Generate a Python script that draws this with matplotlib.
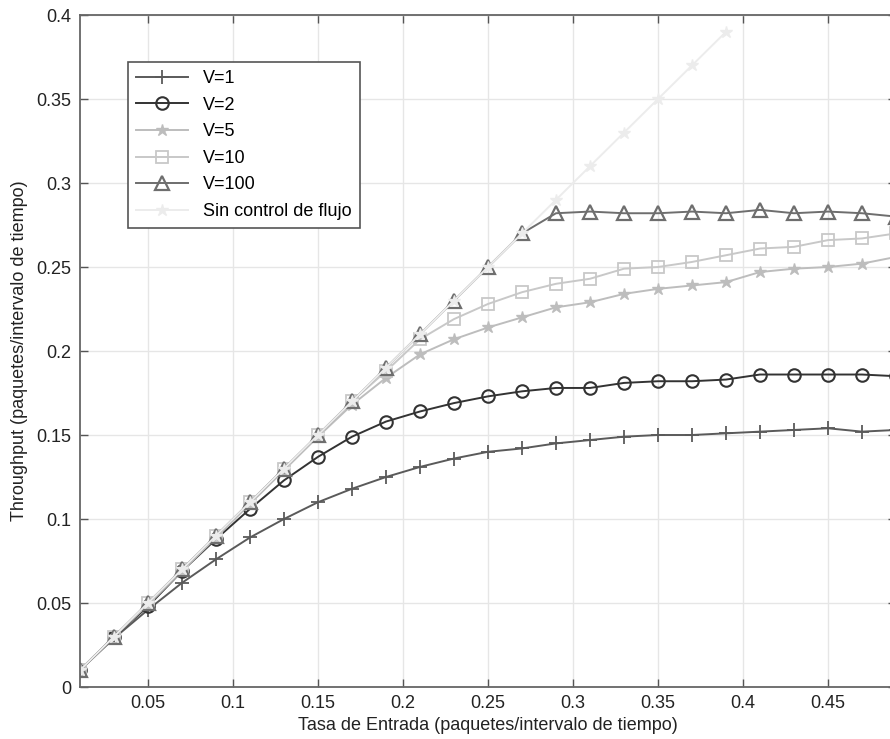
import matplotlib
matplotlib.use("Agg")
import matplotlib.pyplot as plt

plt.rcParams['font.family'] = ['Liberation Sans', 'DejaVu Sans']

x = [0.01, 0.03, 0.05, 0.07, 0.09, 0.11, 0.13, 0.15, 0.17, 0.19, 0.21, 0.23, 0.25,
     0.27, 0.29, 0.31, 0.33, 0.35, 0.37, 0.39, 0.41, 0.43, 0.45, 0.47, 0.49]

v1 = [0.010, 0.029, 0.046, 0.062, 0.076, 0.089, 0.100, 0.110, 0.118, 0.125, 0.131, 0.136, 0.140,
      0.142, 0.145, 0.147, 0.149, 0.150, 0.150, 0.151, 0.152, 0.153, 0.154, 0.152, 0.153]
v2 = [0.010, 0.030, 0.048, 0.069, 0.088, 0.106, 0.123, 0.137, 0.149, 0.158, 0.164, 0.169, 0.173,
      0.176, 0.178, 0.178, 0.181, 0.182, 0.182, 0.183, 0.186, 0.186, 0.186, 0.186, 0.185]
v5 = [0.010, 0.030, 0.049, 0.069, 0.089, 0.109, 0.129, 0.149, 0.168, 0.184, 0.198, 0.207, 0.214,
      0.220, 0.226, 0.229, 0.234, 0.237, 0.239, 0.241, 0.247, 0.249, 0.250, 0.252, 0.256]
v10 = [0.010, 0.030, 0.050, 0.070, 0.090, 0.110, 0.130, 0.150, 0.170, 0.188, 0.207, 0.219, 0.228,
       0.235, 0.240, 0.243, 0.249, 0.250, 0.253, 0.257, 0.261, 0.262, 0.266, 0.267, 0.270]
v100 = [0.010, 0.030, 0.050, 0.070, 0.090, 0.110, 0.130, 0.150, 0.170, 0.190, 0.210, 0.230, 0.250,
        0.270, 0.282, 0.283, 0.282, 0.282, 0.283, 0.282, 0.284, 0.282, 0.283, 0.282, 0.280]
x_sin = [0.01, 0.03, 0.05, 0.07, 0.09, 0.11, 0.13, 0.15, 0.17, 0.19, 0.21, 0.23, 0.25,
         0.27, 0.29, 0.31, 0.33, 0.35, 0.37, 0.39]
sin_ctrl = [0.01, 0.03, 0.05, 0.07, 0.09, 0.11, 0.13, 0.15, 0.17, 0.19, 0.21, 0.23, 0.25,
            0.27, 0.29, 0.31, 0.33, 0.35, 0.37, 0.39]

labels = ['V=1', 'V=2', 'V=5', 'V=10', 'V=100', 'Sin control de flujo']
xticks = [0.05, 0.1, 0.15, 0.2, 0.25, 0.3, 0.35, 0.4, 0.45]
xtick_labels = ['0.05', '0.1', '0.15', '0.2', '0.25', '0.3', '0.35', '0.4', '0.45']
yticks = [0, 0.05, 0.1, 0.15, 0.2, 0.25, 0.3, 0.35, 0.4]
ytick_labels = ['0', '0.05', '0.1', '0.15', '0.2', '0.25', '0.3', '0.35', '0.4']

fig = plt.figure(figsize=(8.9, 7.39), dpi=100)
ax = fig.add_axes([80/890, 52/739, 816/890, 672/739])

lw = 1.4
ax.plot(x, v1, color='#5a5a5a', marker='+', ms=10, mew=1.3, lw=lw, label=labels[0])
ax.plot(x, v2, color='#333333', marker='o', ms=9, mfc='none', mew=1.5, lw=lw, label=labels[1])
ax.plot(x, v5, color='#bdbdbd', marker='*', ms=9, mew=1.0, lw=lw, label=labels[2])
ax.plot(x, v10, color='#c8c8c8', marker='s', ms=8, mfc='none', mew=1.3, lw=lw, label=labels[3])
ax.plot(x, v100, color='#6e6e6e', marker='^', ms=9.5, mfc='none', mew=1.6, lw=lw, label=labels[4])
ax.plot(x_sin, sin_ctrl, color='#ececec', marker='*', ms=9, mew=1.0, lw=lw, label=labels[5])

ax.set_xlim(0.01, 0.49)
ax.set_ylim(0, 0.4)
ax.set_xticks(xticks)
ax.set_xticklabels(xtick_labels)
ax.set_yticks(yticks)
ax.set_yticklabels(ytick_labels)
ax.grid(True, color='#e6e6e6', lw=1.0)
ax.set_axisbelow(True)
ax.tick_params(direction='in', length=6, width=1.0, color='#555555', labelsize=13,
               labelcolor='#222222', top=True, right=True, pad=6)
for s in ax.spines.values():
    s.set_color('#666666')
    s.set_linewidth(1.3)

ax.set_xlabel('Tasa de Entrada (paquetes/intervalo de tiempo)', fontsize=13, color='#222222', labelpad=3)
ax.set_ylabel('Throughput (paquetes/intervalo de tiempo)', fontsize=13, color='#222222', labelpad=6)

leg = ax.legend(loc='upper left', bbox_to_anchor=((128-80)/816, (687-62)/672),
                borderaxespad=0, fontsize=13, frameon=True, fancybox=False, framealpha=1,
                edgecolor='#555555', handlelength=2.9, borderpad=0.45, labelspacing=0.53,
                handletextpad=0.8)
leg.get_frame().set_linewidth(1.2)

fig.savefig('out.png', dpi=100)
